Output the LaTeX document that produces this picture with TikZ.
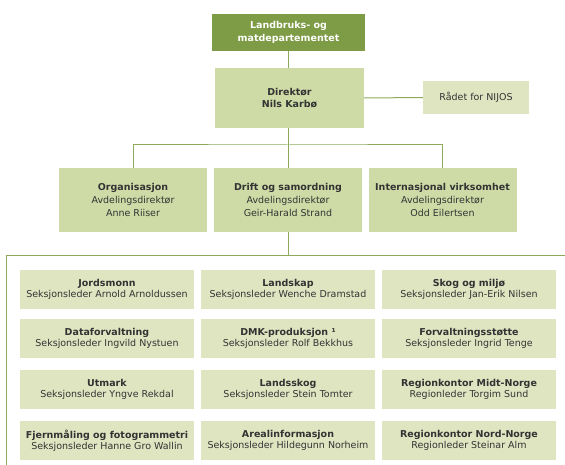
\documentclass[tikz,border=0pt]{standalone}
\usepackage{fontspec}
\setmainfont{DejaVu Sans}
\definecolor{dkgreen}{HTML}{7E9B45}
\definecolor{midgreen}{HTML}{CFDBA7}
\definecolor{ltgreen}{HTML}{DFE5C1}
\definecolor{linegreen}{HTML}{8CAA5A}
\definecolor{txt}{HTML}{333333}
\begin{document}
\begin{tikzpicture}[x=1pt,y=-1pt,
  base/.style={inner sep=0pt, align=center, text=txt},
  topbox/.style={base, fill=dkgreen, text=white, minimum width=153pt, minimum height=36.5pt,
     font=\fontsize{9.5}{12.3}\selectfont\bfseries},
  dirbox/.style={base, fill=midgreen, minimum width=149pt, minimum height=60pt,
     font=\fontsize{9.5}{12.3}\selectfont\bfseries},
  deptbox/.style={base, fill=midgreen, minimum width=148pt, minimum height=64pt,
     font=\fontsize{9.5}{13.3}\selectfont},
  sectbox/.style={base, fill=ltgreen, minimum width=174pt, minimum height=39pt,
     font=\fontsize{9.5}{10.7}\selectfont},
  councilbox/.style={base, fill=ltgreen, minimum width=106pt, minimum height=33pt,
     font=\fontsize{9.5}{12}\selectfont},
  conn/.style={draw=linegreen, line width=1pt}
]
\useasboundingbox (0,0) rectangle (565,465);

\node[topbox] (top) at (288.5,32.3) {Landbruks- og\\matdepartementet};
\node[dirbox] (dir) at (289.5,98) {Direktør\\Nils Karbø};
\node[councilbox] (rad) at (476,97.5) {Rådet for NIJOS};

\node[deptbox] (org) at (133,200) {\textbf{Organisasjon}\\Avdelingsdirektør\\Anne Riiser};
\node[deptbox] (drift) at (288,200) {\textbf{Drift og samordning}\\Avdelingsdirektør\\Geir-Harald Strand};
\node[deptbox] (int) at (442.5,200) {\textbf{Internasjonal virksomhet}\\Avdelingsdirektør\\Odd Eilertsen};

\node[sectbox] (s11) at (107,289.5) {\textbf{Jordsmonn}\\Seksjonsleder Arnold Arnoldussen};
\node[sectbox] (s12) at (288,289.5) {\textbf{Landskap}\\Seksjonsleder Wenche Dramstad};
\node[sectbox] (s13) at (469,289.5) {\textbf{Skog og miljø}\\Seksjonsleder Jan-Erik Nilsen};
\node[sectbox] (s21) at (107,338.5) {\textbf{Dataforvaltning}\\Seksjonsleder Ingvild Nystuen};
\node[sectbox] (s22) at (288,338.5) {\textbf{DMK-produksjon ¹}\\Seksjonsleder Rolf Bekkhus};
\node[sectbox] (s23) at (469,338.5) {\textbf{Forvaltningsstøtte}\\Seksjonsleder Ingrid Tenge};
\node[sectbox] (s31) at (107,389.5) {\textbf{Utmark}\\Seksjonsleder Yngve Rekdal};
\node[sectbox] (s32) at (288,389.5) {\textbf{Landsskog}\\Seksjonsleder Stein Tomter};
\node[sectbox] (s33) at (469,389.5) {\textbf{Regionkontor Midt-Norge}\\Regionleder Torgim Sund};
\node[sectbox] (s41) at (107,440.5) {\textbf{Fjernmåling og fotogrammetri}\\Seksjonsleder Hanne Gro Wallin};
\node[sectbox] (s42) at (288,440.5) {\textbf{Arealinformasjon}\\Seksjonsleder Hildegunn Norheim};
\node[sectbox] (s43) at (469,440.5) {\textbf{Regionkontor Nord-Norge}\\Regionleder Steinar Alm};

\coordinate (bar) at (288,145);
\coordinate (fbl) at (6,466);
\coordinate (ftl) at (6,256);
\coordinate (ftr) at (566,256);

\draw[conn] (top.south -| drift.north) -- (dir.north -| drift.north);
\draw[conn] (dir.south -| drift.north) -- (drift.north);
\draw[conn] (dir.east) -- (rad.west);
\draw[conn] (org.north) |- (bar) -| (int.north);
\draw[conn] (drift.south) -- (drift.south |- ftl);
\draw[conn] (fbl) -- (ftl) -- (ftr);
\end{tikzpicture}
\end{document}
